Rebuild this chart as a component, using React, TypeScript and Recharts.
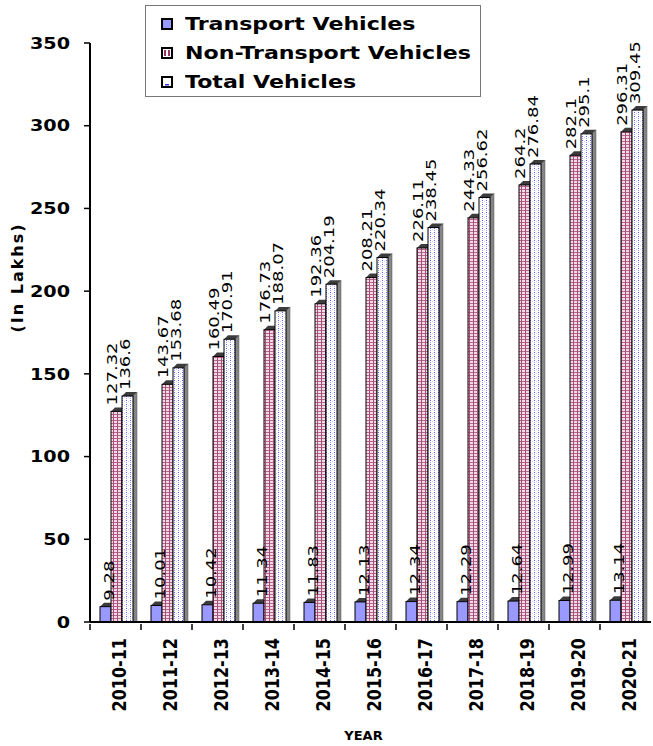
import React from "react";
import { BarChart, Bar, XAxis, YAxis, LabelList } from "recharts";

// values (in lakhs)
const YEARS = [
  "2010-11", "2011-12", "2012-13", "2013-14", "2014-15", "2015-16",
  "2016-17", "2017-18", "2018-19", "2019-20", "2020-21",
];
const TRANSPORT = [9.28, 10.01, 10.42, 11.34, 11.83, 12.13, 12.34, 12.29, 12.64, 12.99, 13.14];
const NON_TRANSPORT = [127.32, 143.67, 160.49, 176.73, 192.36, 208.21, 226.11, 244.33, 264.2, 282.1, 296.31];
const TOTAL = [136.6, 153.68, 170.91, 188.07, 204.19, 220.34, 238.45, 256.62, 276.84, 295.1, 309.45];
const Y_TICKS = [0, 50, 100, 150, 200, 250, 300, 350];

const data = YEARS.map((year, i) => ({
  year,
  transport: TRANSPORT[i],
  nonTransport: NON_TRANSPORT[i],
  total: TOTAL[i],
}));

const W = 653;
const H = 746;
const DEPTH = 4;
const SHIFT = 1;
const BAND = (W - 90 - 2) / YEARS.length;

// bar with a fake 3d top cap and side shadow
// eslint-disable-next-line @typescript-eslint/no-explicit-any
function Bar3D(props: any) {
  const { x, y, width, height, fill } = props;
  if (!height || height <= 0) return null;
  const x0 = x + SHIFT;
  const x1 = x0 + width;
  return (
    <g>
      <polygon
        points={`${x1},${y} ${x1 + DEPTH},${y - DEPTH} ${x1 + DEPTH},${y + height} ${x1},${y + height}`}
        fill="#858585"
        stroke="#555"
        strokeWidth={0.5}
      />
      <polygon
        points={`${x0},${y} ${x0 + DEPTH},${y - DEPTH} ${x1 + DEPTH},${y - DEPTH} ${x1},${y}`}
        fill="#3c3c3c"
      />
      <rect x={x0} y={y} width={width} height={height} fill={fill} stroke="#000" strokeWidth={1} />
    </g>
  );
}

// rotated value label; shift moves the text sideways relative to the bar centre
// eslint-disable-next-line @typescript-eslint/no-explicit-any
function ValueLabel(props: any) {
  const { x, y, width, value, shift = 0 } = props;
  const cx = x + width / 2 + SHIFT + shift;
  return (
    <text
      transform={`translate(${cx},${y - DEPTH - 2}) scale(0.8,1) rotate(-90)`}
      textAnchor="start"
      dy="0.36em"
      fontFamily="DejaVu Sans"
      fontSize={18}
      fill="#000"
    >
      {value}
    </text>
  );
}

// eslint-disable-next-line @typescript-eslint/no-explicit-any
function YTick(props: any) {
  const { x, y, payload } = props;
  return (
    <text
      transform={`translate(${x - 12},${y}) scale(1.2,1)`}
      textAnchor="end"
      dy="0.36em"
      fontFamily="DejaVu Sans"
      fontWeight="bold"
      fontSize={16}
      fill="#000"
    >
      {payload.value}
    </text>
  );
}

// label under each category, tick mark on the category boundary
// eslint-disable-next-line @typescript-eslint/no-explicit-any
function XTick(props: any) {
  const { x, y, payload } = props;
  const left = x - BAND / 2;
  return (
    <g>
      <line x1={left} y1={y - 6} x2={left} y2={y} stroke="#000" strokeWidth={1.5} />
      <text
        transform={`translate(${x + 3},${y + 8}) scale(1.25,1) rotate(-90)`}
        textAnchor="end"
        dy="0.36em"
        fontFamily="DejaVu Sans"
        fontWeight="bold"
        fontSize={16}
        fill="#000"
      >
        {payload.value}
      </text>
    </g>
  );
}

const LEGEND_ITEMS = [
  { label: "Transport Vehicles", icon: "transport" },
  { label: "Non-Transport Vehicles", icon: "non" },
  { label: "Total Vehicles", icon: "total" },
];

function LegendBox() {
  return (
    <div
      style={{
        position: "absolute",
        left: 145,
        top: 5,
        width: 336,
        height: 92,
        border: "1px solid #777",
        boxSizing: "border-box",
        background: "#fff",
        paddingTop: 3,
      }}
    >
      {LEGEND_ITEMS.map((it) => (
        <div key={it.label} style={{ display: "flex", alignItems: "center", height: 29, paddingLeft: 15 }}>
          <svg width={12} height={12} style={{ flexShrink: 0 }}>
            <rect
              x={1}
              y={1}
              width={10}
              height={10}
              fill={it.icon === "transport" ? "#9999ff" : "#fff"}
              stroke="#000"
              strokeWidth={2}
            />
            {it.icon === "non" && (
              <>
                <rect x={3} y={3} width={2} height={6} fill="#993366" />
                <rect x={7} y={3} width={2} height={6} fill="#993366" />
              </>
            )}
            {it.icon === "total" && <rect x={4} y={8} width={4} height={1.5} fill="#3333ff" />}
          </svg>
          <span
            style={{
              display: "inline-block",
              marginLeft: 12,
              fontFamily: "DejaVu Sans",
              fontWeight: "bold",
              fontSize: 17,
              color: "#000",
              transform: "scaleX(1.3)",
              transformOrigin: "left center",
              whiteSpace: "nowrap",
            }}
          >
            {it.label}
          </span>
        </div>
      ))}
    </div>
  );
}

export default function App() {
  return (
    <div style={{ position: "absolute", left: 0, top: 0, width: W, height: H, background: "#fff" }}>
      <BarChart
        width={W}
        height={H}
        data={data}
        margin={{ top: 43, right: 2, left: 0, bottom: 0 }}
        barGap={0}
        barSize={11}
      >
        <defs>
          <pattern id="patNon" width="4" height="3" patternUnits="userSpaceOnUse">
            <rect width="4" height="3" fill="#f3dbe6" />
            <rect x="0" y="0" width="4" height="1" fill="#b5668c" />
            <rect x="1" y="0" width="1" height="3" fill="#a34d78" />
          </pattern>
          <pattern id="patTotal" width="4" height="4" patternUnits="userSpaceOnUse">
            <rect width="4" height="4" fill="#ffffff" />
            <rect x="2" y="0" width="1" height="1" fill="#5b5bff" />
            <rect x="2" y="2" width="1" height="1" fill="#a0a0ff" />
            <rect x="0" y="1" width="1" height="1" fill="#d0d0ff" />
          </pattern>
        </defs>
        <XAxis
          dataKey="year"
          tick={<XTick />}
          tickLine={false}
          axisLine={{ stroke: "#000", strokeWidth: 2 }}
          interval={0}
          height={124}
          label={{
            value: "YEAR",
            position: "insideBottom",
            offset: 6,
            fontFamily: "DejaVu Sans",
            fontWeight: "bold",
            fontSize: 13,
            fill: "#000",
            dx: -7,
          }}
        />
        <YAxis
          domain={[0, 350]}
          ticks={Y_TICKS}
          width={90}
          tick={<YTick />}
          tickSize={6}
          tickLine={{ stroke: "#000", strokeWidth: 1.5 }}
          axisLine={{ stroke: "#000", strokeWidth: 2 }}
          label={{
            value: "(In Lakhs)",
            angle: -90,
            position: "insideLeft",
            offset: 17,
            fontFamily: "DejaVu Sans",
            fontWeight: "bold",
            fontSize: 16,
            letterSpacing: 2,
            fill: "#000",
          }}
        />
        <Bar dataKey="transport" name="Transport Vehicles" fill="#9999ff" shape={<Bar3D />} isAnimationActive={false}>
          <LabelList dataKey="transport" content={<ValueLabel shift={3} />} />
        </Bar>
        <Bar dataKey="nonTransport" name="Non-Transport Vehicles" fill="url(#patNon)" shape={<Bar3D />} isAnimationActive={false}>
          <LabelList dataKey="nonTransport" content={<ValueLabel shift={-5} />} />
        </Bar>
        <Bar dataKey="total" name="Total Vehicles" fill="url(#patTotal)" shape={<Bar3D />} isAnimationActive={false}>
          <LabelList dataKey="total" content={<ValueLabel shift={-3} />} />
        </Bar>
      </BarChart>
      <LegendBox />
    </div>
  );
}
